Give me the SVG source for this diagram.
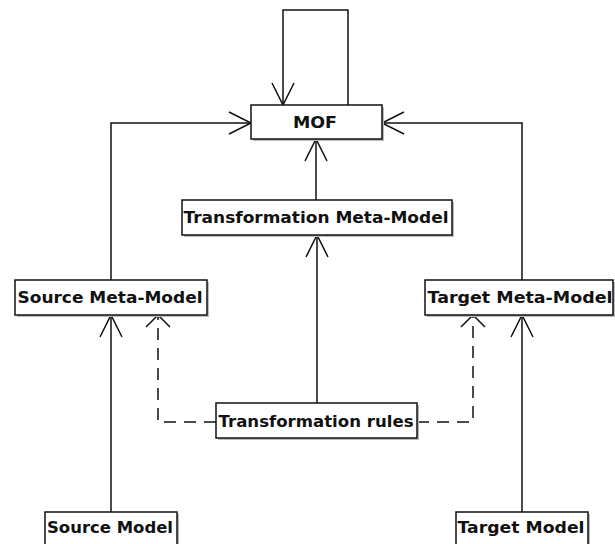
<svg xmlns="http://www.w3.org/2000/svg" width="615" height="544" viewBox="0 0 615 544">
<style>
.box{fill:#fff;stroke:#111;stroke-width:1.5}
.sh{fill:#bbb}
.lbl{font-family:"DejaVu Sans","Liberation Sans",sans-serif;font-weight:bold;font-size:16px;fill:#111;text-anchor:middle}
.e{fill:none;stroke:#111;stroke-width:1.5}
.d{fill:none;stroke:#111;stroke-width:1.5;stroke-dasharray:12 8}
</style>
<defs>
<marker id="a" markerUnits="userSpaceOnUse" markerWidth="30" markerHeight="30" viewBox="-25 -15 30 30" refX="0" refY="0" orient="auto">
<path d="M-22,-11 L0,0 L-22,11" fill="none" stroke="#111" stroke-width="1.5"/>
</marker>
<marker id="ad" markerUnits="userSpaceOnUse" markerWidth="30" markerHeight="30" viewBox="-15 -15 30 30" refX="0" refY="0" orient="auto">
<path d="M-12,-12 L0,0 L-12,12" fill="none" stroke="#111" stroke-width="1.5"/>
</marker>
</defs>
<g id="connectors">
<path class="e" d="M348,105 V10 H283 V105" marker-end="url(#a)"/>
<path class="e" d="M111,280 V123 H251" marker-end="url(#a)"/>
<path class="e" d="M522,280 V123 H382" marker-end="url(#a)"/>
<path class="e" d="M316,200 V139" marker-end="url(#a)"/>
<path class="e" d="M317,403 V235" marker-end="url(#a)"/>
<path class="e" d="M111,512 V315" marker-end="url(#a)"/>
<path class="e" d="M522,512 V315" marker-end="url(#a)"/>
<path class="d" d="M216,422 H158 V315" marker-end="url(#ad)"/>
<path class="d" d="M417,422 H473 V315" marker-end="url(#ad)"/>
</g>
<g id="mof">
<rect class="sh" x="253" y="107" width="131" height="34"/>
<rect class="box" x="251" y="105" width="131" height="34"/>
<text class="lbl" x="315" y="128" textLength="44" lengthAdjust="spacingAndGlyphs">MOF</text>
</g>
<g id="tmm">
<rect class="sh" x="184" y="202" width="270" height="35"/>
<rect class="box" x="182" y="200" width="270" height="35"/>
<text class="lbl" x="316" y="223" textLength="265" lengthAdjust="spacingAndGlyphs">Transformation Meta-Model</text>
</g>
<g id="smm">
<rect class="sh" x="17" y="282" width="192" height="35"/>
<rect class="box" x="15" y="280" width="192" height="35"/>
<text class="lbl" x="110" y="303" textLength="185" lengthAdjust="spacingAndGlyphs">Source Meta-Model</text>
</g>
<g id="tgmm">
<rect class="sh" x="427" y="282" width="190" height="35"/>
<rect class="box" x="425" y="280" width="188" height="35"/>
<text class="lbl" x="520" y="303" textLength="185" lengthAdjust="spacingAndGlyphs">Target Meta-Model</text>
</g>
<g id="rules">
<rect class="sh" x="218" y="405" width="201" height="35"/>
<rect class="box" x="216" y="403" width="201" height="35"/>
<text class="lbl" x="316" y="427" textLength="195" lengthAdjust="spacingAndGlyphs">Transformation rules</text>
</g>
<g id="sm">
<rect class="sh" x="47" y="514" width="132" height="40"/>
<rect class="box" x="45" y="512" width="132" height="40"/>
<text class="lbl" x="110" y="533" textLength="126" lengthAdjust="spacingAndGlyphs">Source Model</text>
</g>
<g id="tm">
<rect class="sh" x="458" y="514" width="132" height="40"/>
<rect class="box" x="456" y="512" width="132" height="40"/>
<text class="lbl" x="521" y="533" textLength="127" lengthAdjust="spacingAndGlyphs">Target Model</text>
</g>
</svg>
